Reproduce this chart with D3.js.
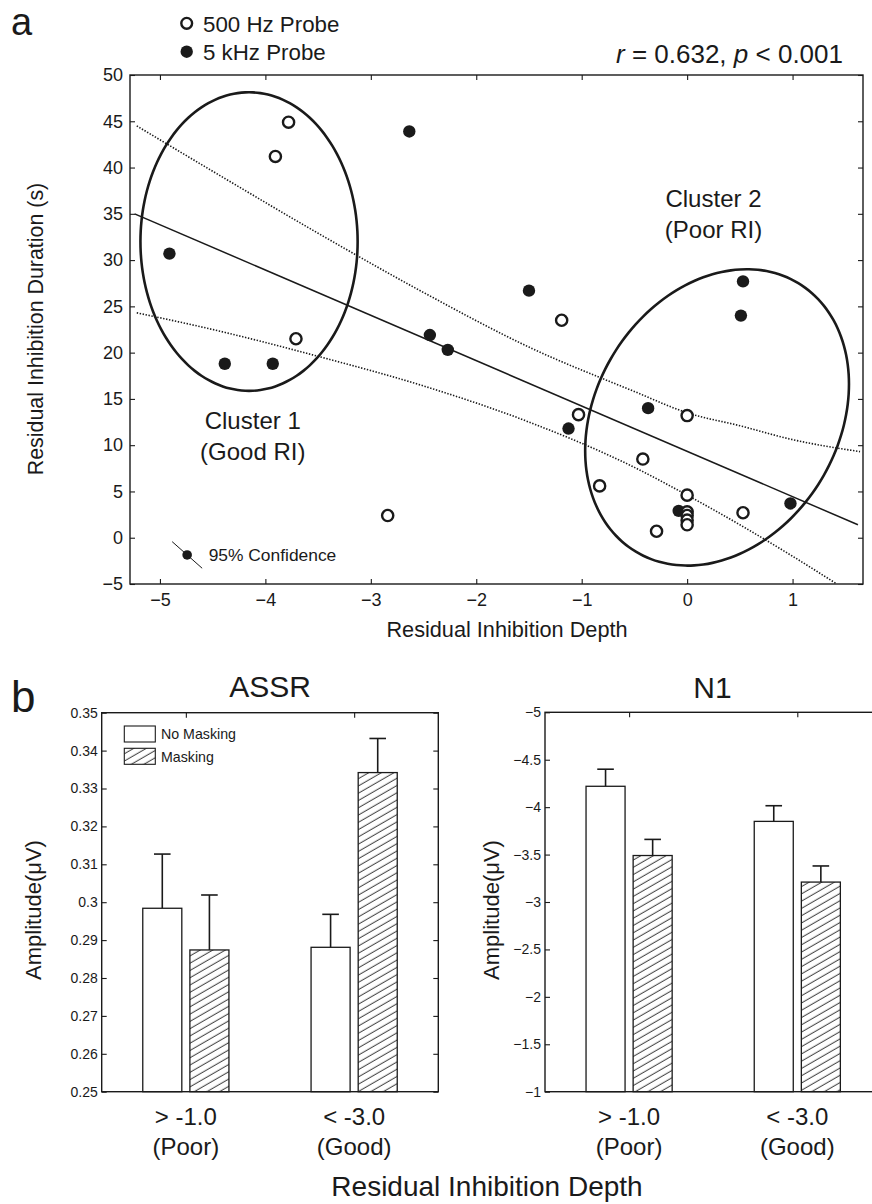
<!DOCTYPE html>
<html>
<head>
<meta charset="utf-8">
<script src="https://cdn.jsdelivr.net/npm/d3@7"></script>
<style>
  html, body { margin: 0; padding: 0; background: #fff; }
  svg text { font-family: "Liberation Sans", Arial, Helvetica, sans-serif; fill: #1a1a1a; }
</style>
</head>
<body>
<svg id="chart" width="872" height="1204"></svg>
<script>
// ---------------- DATA ----------------
// Panel a: scatter (Residual Inhibition Depth, Residual Inhibition Duration)
const probe500 = [
  [-3.78, 44.9], [-3.905, 41.2], [-3.71, 21.5], [-2.84, 2.4], [-1.19, 23.5],
  [-1.03, 13.3], [0, 13.2], [-0.42, 8.5], [-0.83, 5.6], [0, 4.6],
  [0, 2.8], [0, 2.4], [0, 1.9], [0, 1.4], [-0.29, 0.7], [0.53, 2.7]
];
const probe5k = [
  [-4.91, 30.7], [-4.385, 18.8], [-3.93, 18.8], [-2.635, 43.9], [-2.44, 21.9],
  [-2.27, 20.3], [-1.5, 26.7], [-1.125, 11.8], [-0.37, 14.0], [-0.08, 2.9],
  [0.51, 24.0], [0.53, 27.7], [0.98, 3.7]
];
const regressionLine = [[-5.24, 35.0], [1.62, 1.4]];
const upperBand = [[-5.22, 44.5], [-4.5, 39.6], [-3.5, 32.9], [-2.5, 26.5], [-1.5, 20.6],
  [-0.5, 15.8], [0, 13.5], [0.5, 12.1], [1.0, 10.6], [1.64, 9.3]];
const lowerBand = [[-5.22, 24.3], [-4.5, 22.5], [-3.5, 19.6], [-2.5, 16.4], [-1.5, 12.5],
  [-0.5, 7.6], [0, 4.6], [0.5, 1.4], [1.0, -2.0], [1.42, -5.0]];
// cluster ellipses: center, conjugate half-axes (data units)
const clusterCenters = [[-4.155, 32.0], [0.284, 13.0]];
const clusterAxisU = [[1.03, 0], [1.251, 3.6]];
const clusterAxisV = [[0, 16.13], [0, 15.6]];
const clusterLabels = [["Cluster 1", "(Good RI)"], ["Cluster 2", "(Poor RI)"]];
const xTicksA = [-5, -4, -3, -2, -1, 0, 1];
const yTicksA = [-5, 0, 5, 10, 15, 20, 25, 30, 35, 40, 45, 50];

// Panel b: bar charts
const groups = ["> -1.0|(Poor)", "< -3.0|(Good)"];
const conditions = ["No Masking", "Masking"];
const assrMean = [[0.2984, 0.2874], [0.2881, 0.3342]];   // [group][condition]
const assrErr  = [[0.0143, 0.0145], [0.0087, 0.0090]];
const n1Mean = [[-4.22, -3.49], [-3.85, -3.21]];
const n1Err  = [[0.18, 0.17], [0.165, 0.17]];
const assrTicks = [0.25, 0.26, 0.27, 0.28, 0.29, 0.30, 0.31, 0.32, 0.33, 0.34, 0.35];
const n1Ticks = [-5, -4.5, -4, -3.5, -3, -2.5, -2, -1.5, -1];

// ---------------- DRAW ----------------
const svg = d3.select("#chart");
const INK = "#1a1a1a";
svg.append("rect").attr("width", 872).attr("height", 1204).attr("fill", "#fff");

const defs = svg.append("defs");
const pat = defs.append("pattern").attr("id", "hatch")
  .attr("patternUnits", "userSpaceOnUse").attr("width", 10).attr("height", 6.3)
  .attr("patternTransform", "rotate(-30)");
pat.append("rect").attr("width", 10).attr("height", 6.3).attr("fill", "#fff");
pat.append("line").attr("x1", -1).attr("x2", 11).attr("y1", 3).attr("y2", 3)
  .attr("stroke", INK).attr("stroke-width", 0.9);

// ===== Panel a =====
const xA = d3.scaleLinear().domain([-5.284, 1.668]).range([130, 863]);
const yA = d3.scaleLinear().domain([-5, 50]).range([584, 75]);
const gA = svg.append("g");
const intFmt = d3.format("");

function styleAxis(g) {
  g.select(".domain").remove();
  g.selectAll(".tick line").attr("stroke", INK).attr("stroke-width", 1.1);
}
gA.append("g").attr("transform", "translate(0,584)")
  .call(d3.axisBottom(xA).tickValues(xTicksA).tickSize(-5).tickPadding(9).tickFormat(intFmt))
  .call(styleAxis)
  .call(g => g.selectAll("text").attr("font-size", 18).attr("fill", INK));
gA.append("g").attr("transform", "translate(0,75)")
  .call(d3.axisTop(xA).tickValues(xTicksA).tickSize(-5).tickFormat(""))
  .call(styleAxis);
gA.append("g").attr("transform", "translate(130,0)")
  .call(d3.axisLeft(yA).tickValues(yTicksA).tickSize(-5).tickPadding(7).tickFormat(intFmt))
  .call(styleAxis)
  .call(g => g.selectAll("text").attr("font-size", 18).attr("fill", INK));
gA.append("g").attr("transform", "translate(863,0)")
  .call(d3.axisRight(yA).tickValues(yTicksA).tickSize(-5).tickFormat(""))
  .call(styleAxis);
gA.append("rect").attr("x", 130).attr("y", 75).attr("width", 733).attr("height", 509)
  .attr("fill", "none").attr("stroke", INK).attr("stroke-width", 1.4);

const lineA = d3.line().x(d => xA(d[0])).y(d => yA(d[1]));
gA.append("path").attr("d", lineA(regressionLine)).attr("fill", "none")
  .attr("stroke", INK).attr("stroke-width", 1.5);
const bandLine = d3.line().x(d => xA(d[0])).y(d => yA(d[1])).curve(d3.curveMonotoneX);
[upperBand, lowerBand].forEach(b => {
  gA.append("path").attr("d", bandLine(b)).attr("fill", "none")
    .attr("stroke", INK).attr("stroke-width", 1.6).attr("stroke-dasharray", "1.4,1.6");
});

// ellipses
const tSteps = d3.range(0, 360, 4).map(a => a * Math.PI / 180);
const ellLine = d3.line().x(d => xA(d[0])).y(d => yA(d[1])).curve(d3.curveCardinalClosed);
clusterCenters.forEach((c, i) => {
  const u = clusterAxisU[i], v = clusterAxisV[i];
  const pts = tSteps.map(t => [c[0] + u[0] * Math.cos(t) + v[0] * Math.sin(t),
                               c[1] + u[1] * Math.cos(t) + v[1] * Math.sin(t)]);
  gA.append("path").attr("d", ellLine(pts))
    .attr("fill", "none").attr("stroke", INK).attr("stroke-width", 2.6);
});

// points (filled first, open on top)
gA.selectAll("circle.k5").data(probe5k).join("circle").attr("class", "k5")
  .attr("cx", d => xA(d[0])).attr("cy", d => yA(d[1])).attr("r", 6.2).attr("fill", INK);
gA.selectAll("circle.h5").data(probe500).join("circle").attr("class", "h5")
  .attr("cx", d => xA(d[0])).attr("cy", d => yA(d[1])).attr("r", 5.6)
  .attr("fill", "#fff").attr("stroke", INK).attr("stroke-width", 2.4);

// cluster labels
const clusterLabelPos = [[-4.12, 428.5], [0.25, 207]];
clusterLabels.forEach((lab, i) => {
  const t = gA.append("text").attr("text-anchor", "middle").attr("font-size", 24)
    .attr("x", xA(clusterLabelPos[i][0])).attr("y", clusterLabelPos[i][1]);
  t.append("tspan").text(lab[0]);
  t.append("tspan").attr("x", xA(clusterLabelPos[i][0])).attr("dy", 31).text(lab[1]);
});

// 95% confidence legend
const confMarker = [-4.742, -1.86];
gA.append("line").attr("x1", xA(confMarker[0]) - 15).attr("y1", yA(confMarker[1]) - 13.3)
  .attr("x2", xA(confMarker[0]) + 15).attr("y2", yA(confMarker[1]) + 13.3)
  .attr("stroke", INK).attr("stroke-width", 1);
gA.append("circle").attr("cx", xA(confMarker[0])).attr("cy", yA(confMarker[1])).attr("r", 4.8).attr("fill", INK);
gA.append("text").attr("x", xA(confMarker[0]) + 21.5).attr("y", 561).attr("font-size", 17.4).text("95% Confidence");

// axis titles
gA.append("text").attr("transform", "translate(43,329) rotate(-90)").attr("text-anchor", "middle")
  .attr("font-size", 21.4).text("Residual Inhibition Duration (s)");
gA.append("text").attr("x", 507).attr("y", 637).attr("text-anchor", "middle")
  .attr("font-size", 21.7).text("Residual Inhibition Depth");

// legend probes
gA.append("circle").attr("cx", 186.7).attr("cy", 23.3).attr("r", 5.4).attr("fill", "#fff")
  .attr("stroke", INK).attr("stroke-width", 2.4);
gA.append("circle").attr("cx", 186.7).attr("cy", 51.7).attr("r", 6.2).attr("fill", INK);
gA.append("text").attr("x", 203).attr("y", 31.5).attr("font-size", 22.3).text("500 Hz Probe");
gA.append("text").attr("x", 203).attr("y", 59.5).attr("font-size", 22.3).text("5 kHz Probe");

// stats
const st = gA.append("text").attr("x", 843).attr("y", 63).attr("text-anchor", "end").attr("font-size", 26);
st.append("tspan").attr("font-style", "italic").text("r");
st.append("tspan").text(" = 0.632, ");
st.append("tspan").attr("font-style", "italic").text("p");
st.append("tspan").text(" < 0.001");

svg.append("text").attr("x", 11).attr("y", 35).attr("font-size", 38).text("a");
svg.append("text").attr("x", 11).attr("y", 711.5).attr("font-size", 44).text("b");

// ===== Panel b =====
function barPanel(opts) {
  const { x0, x1, y0, y1, domainY, ticks, fmt, means, errs, title, titleY, labelX, legend } = opts;
  const x = d3.scaleLinear().domain([0.5, 2.5]).range([x0, x1]);
  const y = d3.scaleLinear().domain(domainY).range([y1, y0]);
  const g = svg.append("g");
  const off = [-0.14, 0.14], bw = 0.232;
  const baseVal = domainY[0];
  const dir = domainY[1] > domainY[0] ? 1 : -1;

  means.forEach((gm, gi) => {
    gm.forEach((m, ci) => {
      const cx = gi + 1 + off[ci];
      const top = y(m), bottom = y(baseVal);
      const eTop = y(m + dir * errs[gi][ci]);
      g.append("line").attr("x1", x(cx)).attr("x2", x(cx)).attr("y1", top).attr("y2", eTop)
        .attr("stroke", INK).attr("stroke-width", 1.6);
      g.append("line").attr("x1", x(cx) - 8.3).attr("x2", x(cx) + 8.3).attr("y1", eTop).attr("y2", eTop)
        .attr("stroke", INK).attr("stroke-width", 1.6);
      g.append("rect").attr("x", x(cx - bw / 2)).attr("width", x(cx + bw / 2) - x(cx - bw / 2))
        .attr("y", top).attr("height", bottom - top)
        .attr("fill", ci === 0 ? "#fff" : "url(#hatch)").attr("stroke", INK).attr("stroke-width", 1.3);
    });
  });

  const tickGroups = [1, 2];
  g.append("g").attr("transform", `translate(${x0},0)`)
    .call(d3.axisLeft(y).tickValues(ticks).tickSize(-5).tickPadding(4).tickFormat(fmt))
    .call(styleAxis)
    .call(gg => gg.selectAll("text").attr("font-size", 14).attr("fill", INK));
  g.append("g").attr("transform", `translate(${x1},0)`)
    .call(d3.axisRight(y).tickValues(ticks).tickSize(-5).tickFormat(""))
    .call(styleAxis);
  g.append("g").attr("transform", `translate(0,${y0})`)
    .call(d3.axisTop(x).tickValues(tickGroups).tickSize(-5).tickFormat(""))
    .call(styleAxis);
  g.append("rect").attr("x", x0).attr("y", y0).attr("width", x1 - x0).attr("height", y1 - y0)
    .attr("fill", "none").attr("stroke", INK).attr("stroke-width", 1.4);

  groups.forEach((lab, gi) => {
    const parts = lab.split("|");
    const t = g.append("text").attr("text-anchor", "middle").attr("font-size", 24);
    t.append("tspan").attr("x", x(gi + 1)).attr("y", 1125).text(parts[0]);
    t.append("tspan").attr("x", x(gi + 1)).attr("y", 1155).text(parts[1]);
  });
  g.append("text").attr("x", (x0 + Math.min(x1, 872)) / 2 + (x1 > 872 ? 4 : 0)).attr("y", titleY)
    .attr("text-anchor", "middle").attr("font-size", 30).text(title);
  g.append("text").attr("transform", `translate(${labelX},910) rotate(-90)`).attr("text-anchor", "middle")
    .attr("font-size", 22).text("Amplitude(\u03bcV)");

  if (legend) {
    conditions.forEach((c, ci) => {
      const ly = 726 + ci * 22.3;
      g.append("rect").attr("x", 124.3).attr("y", ly).attr("width", 31).attr("height", 16)
        .attr("fill", ci === 0 ? "#fff" : "url(#hatch)").attr("stroke", INK).attr("stroke-width", 1.1);
      g.append("text").attr("x", 161).attr("y", ly + 13.3).attr("font-size", 14.2).text(c);
    });
  }
}

barPanel({ x0: 101.7, x1: 438.3, y0: 712.7, y1: 1091.7, domainY: [0.25, 0.35],
  ticks: assrTicks, fmt: d => String(+d.toFixed(2)), means: assrMean, errs: assrErr,
  title: "ASSR", titleY: 696.5, labelX: 41, legend: true });
barPanel({ x0: 545, x1: 881.4, y0: 712.3, y1: 1091.7, domainY: [-1, -5],
  ticks: n1Ticks, fmt: d => String(d).replace("-", "\u2212"), means: n1Mean, errs: n1Err,
  title: "N1", titleY: 698, labelX: 499, legend: false });

svg.append("text").attr("x", 487).attr("y", 1196).attr("text-anchor", "middle")
  .attr("font-size", 28).text("Residual Inhibition Depth");
</script>
</body>
</html>
